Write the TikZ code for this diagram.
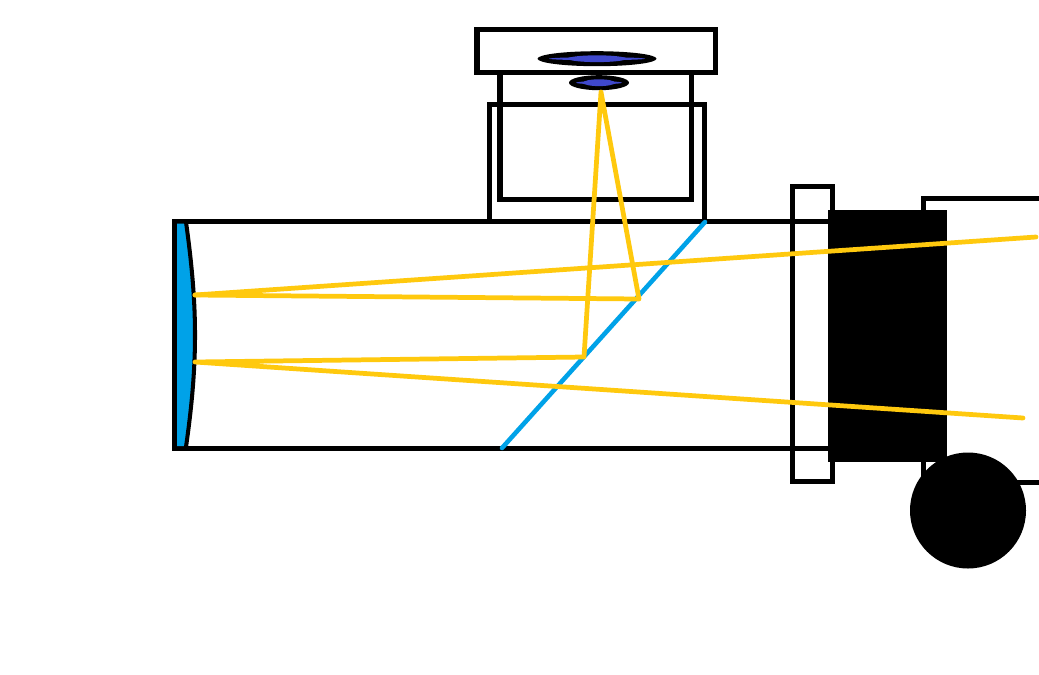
\documentclass[tikz,border=0pt]{standalone}
\definecolor{mirrorblue}{HTML}{00A2E8}
\definecolor{lensblue}{HTML}{3F48CC}
\definecolor{rayyellow}{HTML}{FFC90E}
\tikzset{
    frame/.style={draw=black, line width=2.85pt, fill=none, line join=miter},
    ray/.style={draw=rayyellow, line width=2.7pt, line cap=round, line join=round},
}

\begin{document}
\begin{tikzpicture}[x=0.02cm, y=-0.02cm]
            \useasboundingbox [fill=white] (0, 0) rectangle (1039, 674);

            \draw [frame] (1045, 198.5) -- (923.5, 198.5) -- (923.5, 482.5) -- (1045, 482.5);
            \fill [black] (828, 210) rectangle (947, 462);
            \fill [black] (968, 510.5) circle [radius=58];

            \draw [frame] (477, 29.5) rectangle (715, 72.5);
            \draw [frame] (500, 72.5) -- (500, 199) -- (691.5, 199) -- (691.5, 72.5);
            \draw [frame] (489.5, 221) -- (489.5, 104) -- (704, 104) -- (704, 221);
            \draw [frame] (174.5, 221) rectangle (830, 448.5);
            \draw [frame] (792.5, 186.5) rectangle (832.5, 481.5);

            % lenses
            \foreach \cx/\cy/\rx/\thinrx/\fatrx in {597/58.7/59.5/48/29, 599/82.7/30/23/16} {
                \fill [black] (\cx, \cy) ellipse [x radius=\rx, y radius=7.5];
                \fill [lensblue] (\cx, \cy) ellipse [x radius=\thinrx, y radius=1.5];
                \fill [lensblue] (\cx, \cy) ellipse [x radius=\fatrx, y radius=3.4];
            }

            % primary mirror
            \fill [mirrorblue] (177, 223.5) -- (185, 223.5)
                .. controls (191, 265) and (194, 300) .. (194, 335)
                .. controls (194, 370) and (191, 405) .. (185, 446)
                -- (177, 446) -- cycle;
            \draw [black, line width=2.3pt] (186, 222)
                .. controls (192, 265) and (195, 300) .. (195, 335)
                .. controls (195, 370) and (192, 405) .. (186, 447);

            % splitter
            \draw [mirrorblue, line width=2.6pt, line cap=round] (502, 448) -- (705, 222);

            \coordinate (m1) at (195, 295);
            \coordinate (m2) at (195, 362);
            \coordinate (s1) at (639, 299);
            \coordinate (s2) at (584, 357);
            \coordinate (f) at (601, 92);
            \coordinate (e1) at (1036, 237);
            \coordinate (e2) at (1023, 418);

            \draw [ray] (m1) -- (e1);
            \draw [ray] (e2) -- (m2) -- (s2) -- (f) -- (s1) -- (m1);
\end{tikzpicture}
\end{document}
